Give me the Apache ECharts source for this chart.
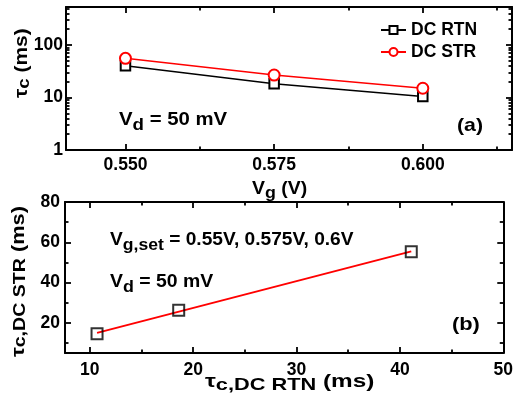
<!DOCTYPE html>
<html><head><meta charset="utf-8">
<script src="https://cdn.jsdelivr.net/npm/echarts@6/dist/echarts.min.js"></script>
<style>html,body{margin:0;padding:0;background:#fff}#c{width:516px;height:398px}</style>
</head><body><div id="c"></div>
<script>
// ---- data (panel a) ----
const vgValues = [0.550, 0.575, 0.600];
const rtnTau = [40.3, 18.3, 10.4];
const strTau = [55.8, 26.8, 15.0];
// ---- data (panel b) ----
const corrRtn = [10.7, 18.6, 41.1];
const corrStr = [14.5, 26.2, 55.3];
// ---- axis ticks ----
const topXTicks = [0.550, 0.575, 0.600];
const topXMinor = [0.5625, 0.5875, 0.6125];
const topYTicks = [1, 10, 100];
const topYMinor = [2,3,4,5,6,7,8,9,20,30,40,50,60,70,80,90,200,300,400,500];
const botXTicks = [10, 20, 30, 40, 50];
const botXMinor = [15, 25, 35, 45];
const botYTicks = [20, 40, 60, 80];
const botYMinor = [10, 30, 50, 70];
const topXRange = [0.540, 0.615];
const topYRange = [1, 530];
const botXRange = [7.6, 50];
const botYRange = [5, 80];

const FONT = '"Liberation Sans", Arial, sans-serif';

function axisSet(dim, gridIndex, type, range, major, minor, labelMargin, fmt) {
  const pos = dim === 'x' ? ['bottom', 'top'] : ['left', 'right'];
  const list = [];
  pos.forEach((p, i) => {
    [[major, 6], [minor, 3.5]].forEach(([vals, len], j) => {
      const ax = {
        type: type, gridIndex: gridIndex, position: p,
        min: range[0], max: range[1],
        axisLine: {show: j === 0, onZero: false, lineStyle: {color: '#000', width: 2}},
        axisTick: {show: true, inside: true, length: len, customValues: vals,
                   lineStyle: {color: '#000', width: 1.8}},
        axisLabel: {show: i === 0 && j === 0, customValues: vals, margin: labelMargin, formatter: fmt,
                    color: '#000', fontFamily: FONT, fontWeight: 'bold', fontSize: 17.5},
        splitLine: {show: false},
        z: 5
      };
      if (type === 'log') ax.logBase = 10;
      list.push(ax);
    });
  });
  return list;
}

// least squares fit for panel b (computed from data)
const n = corrRtn.length;
const mx = corrRtn.reduce((a, b) => a + b, 0) / n;
const my = corrStr.reduce((a, b) => a + b, 0) / n;
let sxy = 0, sxx = 0;
for (let i = 0; i < n; i++) { sxy += (corrRtn[i] - mx) * (corrStr[i] - my); sxx += (corrRtn[i] - mx) ** 2; }
const slope = sxy / sxx, icpt = my - slope * mx;
const xLo = Math.min(...corrRtn), xHi = Math.max(...corrRtn);
const fitData = [[xLo, icpt + slope * xLo], [xHi, icpt + slope * xHi]];

const xAxes = axisSet('x', 0, 'value', topXRange, topXTicks, topXMinor, 6, v => v.toFixed(3))
  .concat(axisSet('x', 1, 'value', botXRange, botXTicks, botXMinor, 8));
const yAxes = axisSet('y', 0, 'log', topYRange, topYTicks, topYMinor, 3)
  .concat(axisSet('y', 1, 'value', botYRange, botYTicks, botYMinor, 5));

function rich(size, subSize, drop) {
  return {
    m: {fontSize: size, fontWeight: 'bold', fontFamily: FONT, fill: '#000'},
    s: {fontSize: subSize, fontWeight: 'bold', fontFamily: FONT, fill: '#000', padding: [drop * 2, 0, 0, 0]}
  };
}
function label(x, y, text, size, subSize, drop, sx, rot) {
  return {
    type: 'text', x: x, y: y, rotation: rot || 0, scaleX: sx, z: 10,
    style: {text: text, rich: rich(size, subSize, drop), align: 'left', verticalAlign: 'middle',
            fontSize: size, fontWeight: 'bold', fontFamily: FONT, fill: '#000'}
  };
}

const option = {
  animation: false,
  backgroundColor: '#fff',
  grid: [
    {left: 66, top: 7, width: 446, height: 143},
    {left: 65, top: 202, width: 444, height: 151}
  ],
  xAxis: xAxes,
  yAxis: yAxes,
  legend: {
    data: ['DC RTN', 'DC STR'], orient: 'vertical', left: 380, top: 21,
    itemWidth: 25, itemHeight: 10, itemGap: 4, padding: 0,
    textStyle: {fontFamily: FONT, fontWeight: 'bold', fontSize: 17.5, color: '#000'}
  },
  series: [
    {type: 'line', name: 'DC RTN', xAxisIndex: 0, yAxisIndex: 0,
     data: vgValues.map((v, i) => [v, rtnTau[i]]),
     symbol: 'emptyRect', symbolSize: 9.5,
     itemStyle: {color: '#000', borderWidth: 1.5},
     lineStyle: {color: '#000', width: 1.5}},
    {type: 'line', name: 'DC STR', xAxisIndex: 0, yAxisIndex: 0,
     data: vgValues.map((v, i) => [v, strTau[i]]),
     symbol: 'emptyCircle', symbolSize: 11,
     itemStyle: {color: '#ff0000', borderWidth: 2},
     lineStyle: {color: '#ff0000', width: 1.5}},
    {type: 'line', name: 'fit', xAxisIndex: 4, yAxisIndex: 4,
     data: fitData, symbol: 'none',
     lineStyle: {color: '#ff0000', width: 2}},
    {type: 'scatter', name: 'corr', xAxisIndex: 4, yAxisIndex: 4,
     data: corrRtn.map((v, i) => [v, corrStr[i]]),
     symbol: 'rect', symbolSize: 11,
     itemStyle: {color: 'rgba(0,0,0,0)', borderColor: '#000', borderWidth: 2}, z: 4}
  ],
  graphic: [
    label(21.5, 98, '{m|τ}{s|c}{m| (ms)}', 19, 17, 3, 1.1, Math.PI / 2),
    label(252, 189, '{m|V}{s|g}{m| (V)}', 18.5, 17, 4, 1.05),
    label(119, 120, '{m|V}{s|d}{m| = 50 mV}', 18.5, 17, 5, 1.1),
    label(457, 126, '{m|(a)}', 19, 17, 0, 1.12),
    label(18.5, 357, '{m|τ}{s|c,DC STR}{m| (ms)}', 19, 17, 2, 1.15, Math.PI / 2),
    label(205, 382, '{m|τ}{s|c,DC RTN}{m| (ms)}', 19, 17, 3, 1.28),
    label(110, 240, '{m|V}{s|g,set}{m| = 0.55V, 0.575V, 0.6V}', 18.5, 17, 5, 1.035),
    label(110, 282, '{m|V}{s|d}{m| = 50 mV}', 18.5, 17, 5, 1.05),
    label(452, 325, '{m|(b)}', 19, 17, 0, 1.15)
  ]
};
const chart = echarts.init(document.getElementById('c'), null, {renderer: 'canvas'});
chart.setOption(option);
</script></body></html>
